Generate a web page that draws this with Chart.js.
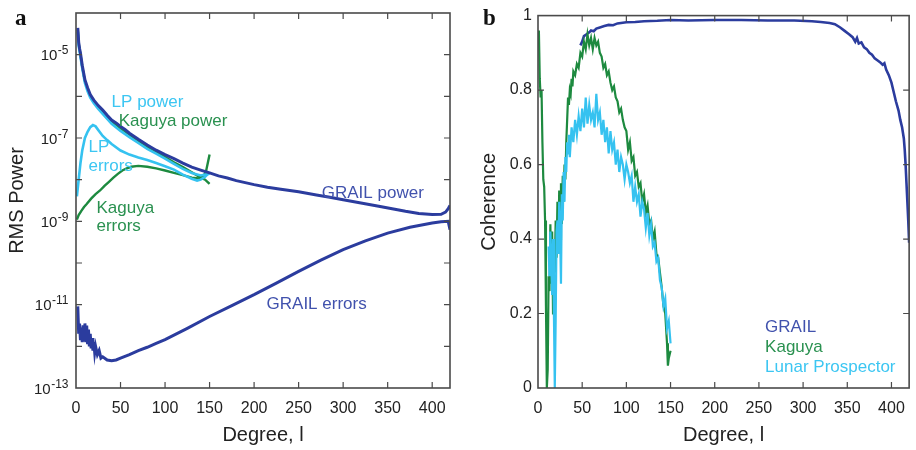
<!DOCTYPE html>
<html lang="en">
<head>
<meta charset="UTF-8" />
<title>GRAIL power spectra and coherence</title>
<script src="https://cdn.jsdelivr.net/npm/chart.js"></script>
<style>
  html, body { margin: 0; padding: 0; background: #fff; }
  #wrap { position: relative; width: 916px; height: 450px; }
  canvas { position: absolute; top: 0; }
  #powerChart { left: 0; }
  #cohChart { left: 458px; }
</style>
</head>
<body>
<div id="wrap">
  <canvas id="powerChart" width="458" height="450"></canvas>
  <canvas id="cohChart" width="458" height="450"></canvas>
</div>
<script>
// ---- panel a: RMS power ----
const grailPowerDeg = [2, 3, 4, 5, 7, 10, 13, 16, 20, 25, 30, 35, 40, 45, 50, 55, 60, 70, 80, 90, 100, 110, 120, 130, 140, 150, 160, 170, 180, 190, 200, 215, 230, 250, 270, 285, 300, 320, 340, 355, 370, 385, 400, 410, 415, 418, 420];
const grailPower = [4.4e-5, 2.0e-5, 1.4e-5, 1.1e-5, 5.6e-6, 2.5e-6, 1.6e-6, 1.1e-6, 8.1e-7, 6.0e-7, 4.7e-7, 3.5e-7, 2.7e-7, 2.3e-7, 1.9e-7, 1.6e-7, 1.3e-7, 9.3e-8, 6.8e-8, 5.1e-8, 4.0e-8, 3.2e-8, 2.5e-8, 2.0e-8, 1.7e-8, 1.45e-8, 1.23e-8, 1.1e-8, 9.5e-9, 8.5e-9, 7.6e-9, 6.6e-9, 5.9e-9, 5.1e-9, 4.3e-9, 3.8e-9, 3.3e-9, 2.75e-9, 2.3e-9, 2.0e-9, 1.74e-9, 1.55e-9, 1.45e-9, 1.48e-9, 1.66e-9, 2.0e-9, 2.4e-9];

const grailErrDeg = [2, 3, 4, 5, 6, 7, 8, 9, 10, 11, 12, 13, 14, 15, 16, 17, 18, 19, 20, 21, 22, 24, 26, 28, 30, 35, 40, 45, 50, 60, 70, 80, 90, 100, 125, 150, 175, 200, 225, 250, 275, 300, 325, 350, 375, 400, 410, 418, 420];
const grailErr = [9.1e-12, 2.0e-12, 3.5e-12, 1.4e-12, 2.8e-12, 1.26e-12, 3.2e-12, 1.41e-12, 3.55e-12, 1.26e-12, 3.16e-12, 1.12e-12, 2.51e-12, 1.0e-12, 2.0e-12, 8.9e-13, 1.58e-12, 7.9e-13, 1.26e-12, 7.1e-13, 1.0e-12, 6.3e-13, 7.9e-13, 5.2e-13, 5.6e-13, 4.7e-13, 4.5e-13, 4.7e-13, 5.2e-13, 6.3e-13, 7.9e-13, 9.5e-13, 1.17e-12, 1.45e-12, 2.7e-12, 5.2e-12, 9.5e-12, 1.74e-11, 3.3e-11, 6.3e-11, 1.17e-10, 2.1e-10, 3.4e-10, 5.2e-10, 7.2e-10, 9.1e-10, 9.8e-10, 1.0e-9, 6.3e-10];

const lpPowerDeg = [2, 3, 5, 7, 10, 13, 16, 20, 25, 30, 40, 50, 60, 70, 80, 90, 100, 110, 120, 130, 140, 150];
const lpPower = [3.5e-5, 1.66e-5, 8.9e-6, 4.7e-6, 2.1e-6, 1.32e-6, 9.3e-7, 6.8e-7, 5.0e-7, 3.8e-7, 2.2e-7, 1.48e-7, 1.05e-7, 7.6e-8, 5.5e-8, 4.2e-8, 3.2e-8, 2.4e-8, 1.82e-8, 1.45e-8, 1.26e-8, 1.38e-8];

const lpErrDeg = [1, 3, 5, 7, 10, 13, 16, 19, 22, 26, 30, 35, 40, 50, 60, 70, 80, 90, 100, 110, 120, 130, 136, 140, 145, 150];
const lpErr = [4.0e-9, 1.0e-8, 2.5e-8, 5.0e-8, 1.0e-7, 1.41e-7, 1.82e-7, 2.04e-7, 1.9e-7, 1.45e-7, 1.12e-7, 8.9e-8, 7.2e-8, 5.0e-8, 4.0e-8, 3.4e-8, 2.95e-8, 2.5e-8, 2.1e-8, 1.74e-8, 1.32e-8, 1.05e-8, 9.5e-9, 1.0e-8, 1.17e-8, 1.5e-8];

const kagPowerDeg = [2, 3, 5, 7, 10, 13, 16, 20, 25, 30, 40, 50, 60, 70, 80, 90, 100, 110, 120, 130, 140, 145, 150];
const kagPower = [4.0e-5, 1.86e-5, 1.0e-5, 5.2e-6, 2.3e-6, 1.48e-6, 1.05e-6, 7.6e-7, 5.6e-7, 4.3e-7, 2.5e-7, 1.7e-7, 1.2e-7, 8.5e-8, 6.2e-8, 4.6e-8, 3.5e-8, 2.6e-8, 2.0e-8, 1.5e-8, 1.12e-8, 1.0e-8, 7.9e-9];

const kagErrDeg = [1, 3, 6, 9, 12, 17, 22, 27, 32, 37, 42, 47, 52, 57, 62, 70, 80, 90, 100, 110, 120, 130, 138, 143, 146, 148, 150];
const kagErr = [1.1e-9, 1.41e-9, 1.78e-9, 2.2e-9, 2.6e-9, 3.5e-9, 4.5e-9, 5.5e-9, 7.1e-9, 8.9e-9, 1.12e-8, 1.38e-8, 1.66e-8, 1.86e-8, 2.04e-8, 2.14e-8, 2.04e-8, 1.86e-8, 1.66e-8, 1.45e-8, 1.29e-8, 1.12e-8, 1.07e-8, 1.2e-8, 1.58e-8, 2.5e-8, 4.0e-8];

// ---- panel b: coherence ----
const grailCohDeg = [48, 50, 52, 55, 58, 60, 63, 66, 70, 75, 80, 85, 90, 100, 110, 120, 135, 150, 170, 200, 230, 260, 290, 310, 320, 330, 336, 342, 347, 352, 356, 359, 361, 363, 366, 369, 372, 375, 378, 381, 384, 387, 390, 392, 394, 397, 400, 403, 405, 408, 410, 412, 414, 415, 416, 417, 418, 419, 420];
const grailCoh = [0.92, 0.93, 0.945, 0.95, 0.955, 0.96, 0.958, 0.965, 0.968, 0.972, 0.975, 0.974, 0.979, 0.982, 0.983, 0.985, 0.986, 0.988, 0.987, 0.988, 0.988, 0.987, 0.987, 0.985, 0.983, 0.98, 0.977, 0.968, 0.959, 0.95, 0.942, 0.93, 0.94, 0.925, 0.928, 0.915, 0.91, 0.9, 0.895, 0.885, 0.88, 0.875, 0.868, 0.872, 0.855, 0.84, 0.82, 0.79, 0.77, 0.745, 0.72, 0.7, 0.67, 0.64, 0.6, 0.55, 0.5, 0.45, 0.39];

const kagCohDeg = [1, 2, 3, 4, 5, 6, 7, 8, 9, 10, 11, 12, 13, 14, 15, 16, 17, 18, 19, 20, 21, 22, 23, 24, 25, 26, 27, 28, 29, 30, 31, 32, 33, 34, 35, 36, 37, 38, 39, 40, 42, 44, 46, 48, 50, 52, 54, 56, 58, 60, 62, 64, 66, 68, 70, 72, 74, 76, 78, 80, 82, 84, 86, 88, 90, 92, 94, 96, 98, 100, 102, 104, 106, 108, 110, 112, 114, 116, 118, 120, 122, 124, 126, 128, 130, 132, 134, 136, 138, 140, 142, 144, 146, 147, 148, 150];
const kagCoh = [0.96, 0.83, 0.78, 0.8, 0.66, 0.56, 0.54, 0.45, 0.22, 0.0, 0.05, 0.3, 0.26, 0.44, 0.28, 0.42, 0.2, 0.38, 0.31, 0.45, 0.35, 0.5, 0.38, 0.53, 0.4, 0.55, 0.44, 0.57, 0.5, 0.6, 0.56, 0.66, 0.72, 0.78, 0.76, 0.8, 0.79, 0.83, 0.81, 0.85, 0.84, 0.87, 0.86, 0.9, 0.89, 0.93, 0.91, 0.95, 0.92, 0.94, 0.91, 0.94, 0.92, 0.93, 0.9, 0.89, 0.86, 0.87, 0.84, 0.85, 0.82, 0.8, 0.81, 0.78, 0.77, 0.74, 0.75, 0.72, 0.7, 0.69, 0.64, 0.66, 0.61, 0.62, 0.57, 0.58, 0.54, 0.55, 0.5, 0.52, 0.47, 0.49, 0.44, 0.45, 0.4, 0.42, 0.36, 0.35, 0.31, 0.27, 0.22, 0.2, 0.12, 0.06, 0.08, 0.1];

const lpCohDeg = [12, 13, 14, 15, 16, 17, 18, 19, 20, 21, 22, 23, 24, 25, 26, 27, 28, 29, 30, 31, 32, 33, 34, 35, 36, 38, 40, 42, 44, 46, 48, 50, 52, 54, 56, 58, 60, 62, 64, 66, 68, 70, 72, 74, 76, 78, 80, 82, 84, 86, 88, 90, 92, 94, 96, 98, 100, 102, 104, 106, 108, 110, 112, 114, 116, 118, 120, 122, 124, 126, 128, 130, 132, 134, 136, 138, 140, 142, 144, 146, 148, 150];
const lpCoh = [0.38, 0.3, 0.42, 0.34, 0.25, 0.4, 0.2, 0.0, 0.18, 0.42, 0.45, 0.36, 0.5, 0.42, 0.28, 0.52, 0.45, 0.58, 0.5, 0.62, 0.58, 0.66, 0.63, 0.68, 0.62, 0.7, 0.66, 0.72, 0.68, 0.73, 0.69, 0.75, 0.7, 0.78, 0.71, 0.76, 0.72, 0.74, 0.7, 0.79, 0.72, 0.74, 0.68, 0.72, 0.66, 0.7, 0.63, 0.69, 0.64, 0.66, 0.6, 0.64, 0.58, 0.62, 0.6, 0.56, 0.6, 0.58, 0.55, 0.57, 0.5, 0.54, 0.5, 0.52, 0.46, 0.5, 0.48, 0.43, 0.47, 0.41, 0.44, 0.38, 0.39, 0.34, 0.35, 0.29, 0.27, 0.22, 0.24, 0.16, 0.18, 0.12];

const degreeTicks = [0, 50, 100, 150, 200, 250, 300, 350, 400];
const powerDecades = [1e-13, 1e-12, 1e-11, 1e-10, 1e-9, 1e-8, 1e-7, 1e-6, 1e-5, 1e-4];
const cohTicks = [0, 0.2, 0.4, 0.6, 0.8, 1];

const GRAIL_BLUE = '#2b3c9e';
const KAGUYA_GREEN = '#1d8a3f';
const LP_CYAN = '#35c2f0';
const GRAIL_TEXT = '#4152ad';
const KAGUYA_TEXT = '#2a9150';
const LP_TEXT = '#3cc6f2';

// text labels, placed in data coordinates (degree, value)
const powerNotes = [
    { text: 'LP power', x: 40, y: 5.5e-7, color: LP_TEXT },
    { text: 'Kaguya power', x: 48, y: 1.95e-7, color: KAGUYA_TEXT },
    { text: 'LP', x: 14, y: 4.7e-8, color: LP_TEXT },
    { text: 'errors', x: 14, y: 1.62e-8, color: LP_TEXT },
    { text: 'Kaguya', x: 23, y: 1.58e-9, color: KAGUYA_TEXT },
    { text: 'errors', x: 23, y: 5.8e-10, color: KAGUYA_TEXT },
    { text: 'GRAIL power', x: 276, y: 3.6e-9, color: GRAIL_TEXT },
    { text: 'GRAIL errors', x: 214, y: 7.9e-12, color: GRAIL_TEXT }
];
const cohNotes = [
    { text: 'GRAIL', x: 257, y: 0.15, color: GRAIL_TEXT },
    { text: 'Kaguya', x: 257, y: 0.097, color: KAGUYA_TEXT },
    { text: 'Lunar Prospector', x: 257, y: 0.043, color: LP_TEXT }
];

const SANS = '"Liberation Sans", Arial, Helvetica, sans-serif';
Chart.defaults.font.family = SANS;
Chart.defaults.color = '#222';

function pts(degs, vals) {
    return degs.map((d, i) => ({ x: d, y: vals[i] }));
}

// box frame, inward ticks on all four sides, text labels, panel letter
const framePlugin = {
    id: 'frame',
    afterDatasetsDraw(chart, args, opts) {
        const { ctx, chartArea: a, scales } = chart;
        const xs = scales.x, ys = scales.y;
        ctx.save();
        ctx.strokeStyle = '#4a4a4a';
        ctx.lineWidth = 1.2;
        ctx.beginPath();
        xs.ticks.forEach(t => {
            const px = xs.getPixelForValue(t.value);
            if (px <= a.left + 1 || px >= a.right - 1) return;
            ctx.moveTo(px, a.bottom); ctx.lineTo(px, a.bottom - 6);
            ctx.moveTo(px, a.top); ctx.lineTo(px, a.top + 6);
        });
        ys.ticks.forEach(t => {
            const py = ys.getPixelForValue(t.value);
            if (py <= a.top + 1 || py >= a.bottom - 1) return;
            ctx.moveTo(a.left, py); ctx.lineTo(a.left + 6, py);
            ctx.moveTo(a.right, py); ctx.lineTo(a.right - 6, py);
        });
        ctx.stroke();
        ctx.lineWidth = 1.6;
        ctx.strokeRect(a.left, a.top, a.right - a.left, a.bottom - a.top);

        // 10^n labels for the log axis
        if (opts.powerLabels) {
            ys.ticks.forEach(t => {
                const e = Math.round(Math.log10(t.value));
                if (e % 2 === 0) return;
                const py = ys.getPixelForValue(t.value);
                ctx.fillStyle = '#222';
                ctx.textAlign = 'left';
                ctx.textBaseline = 'alphabetic';
                ctx.font = '12px ' + SANS;
                const sup = String(e);
                const supW = ctx.measureText(sup).width;
                ctx.font = '15px ' + SANS;
                const baseW = ctx.measureText('10').width;
                const x0 = a.left - 8 - supW - baseW;
                ctx.fillText('10', x0, py + 5.5);
                ctx.font = '12px ' + SANS;
                ctx.fillText(sup, x0 + baseW + 0.5, py - 0.5);
            });
        }

        ctx.textAlign = 'left';
        ctx.textBaseline = 'alphabetic';
        ctx.font = '17px ' + SANS;
        (opts.notes || []).forEach(n => {
            ctx.fillStyle = n.color;
            ctx.fillText(n.text, xs.getPixelForValue(n.x), ys.getPixelForValue(n.y));
        });

        ctx.fillStyle = '#111';
        ctx.font = 'bold 23px "Liberation Serif", "Times New Roman", serif';
        ctx.fillText(opts.letter, opts.letterX, 25);
        ctx.restore();
    }
};

function lineSet(label, data, color, width) {
    return {
        label: label,
        data: data,
        borderColor: color,
        backgroundColor: color,
        borderWidth: width,
        pointRadius: 0,
        tension: 0,
        fill: false
    };
}

const degreeAxis = {
    type: 'linear',
    min: 0,
    max: 420,
    afterBuildTicks: s => { s.ticks = degreeTicks.map(v => ({ value: v })); },
    afterFit: s => { s.height = 62; },
    grid: { display: false, drawTicks: false },
    border: { display: false },
    ticks: { font: { size: 16 }, color: '#222', padding: 11, maxRotation: 0 },
    title: { display: true, text: 'Degree, l', font: { size: 20 }, color: '#222', padding: { top: 0, bottom: 3 } }
};

new Chart(document.getElementById('powerChart'), {
    type: 'line',
    data: {
        datasets: [
            lineSet('GRAIL power', pts(grailPowerDeg, grailPower), GRAIL_BLUE, 3),
            lineSet('GRAIL errors', pts(grailErrDeg, grailErr), GRAIL_BLUE, 3),
            lineSet('LP power', pts(lpPowerDeg, lpPower), LP_CYAN, 2.6),
            lineSet('LP errors', pts(lpErrDeg, lpErr), LP_CYAN, 2.6),
            lineSet('Kaguya power', pts(kagPowerDeg, kagPower), KAGUYA_GREEN, 2.4),
            lineSet('Kaguya errors', pts(kagErrDeg, kagErr), KAGUYA_GREEN, 2.4)
        ]
    },
    options: {
        responsive: false,
        animation: false,
        devicePixelRatio: 1,
        layout: { padding: { top: 13, right: 8, bottom: 0, left: 0 } },
        plugins: {
            legend: { display: false },
            tooltip: { enabled: false },
            frame: { notes: powerNotes, powerLabels: true, letter: 'a', letterX: 15 }
        },
        scales: {
            x: degreeAxis,
            y: {
                type: 'logarithmic',
                min: 1e-13,
                max: 1e-4,
                afterBuildTicks: s => { s.ticks = powerDecades.map(v => ({ value: v })); },
                afterFit: s => { s.width = 76; },
                grid: { display: false, drawTicks: false },
                border: { display: false },
                ticks: { display: false },
                title: { display: true, text: 'RMS Power', font: { size: 20 }, color: '#222', padding: { top: 5 } }
            }
        }
    },
    plugins: [framePlugin]
});

new Chart(document.getElementById('cohChart'), {
    type: 'line',
    data: {
        datasets: [
            lineSet('Lunar Prospector', pts(lpCohDeg, lpCoh), LP_CYAN, 2.2),
            lineSet('Kaguya', pts(kagCohDeg, kagCoh), KAGUYA_GREEN, 2.2),
            lineSet('GRAIL', pts(grailCohDeg, grailCoh), GRAIL_BLUE, 2.6)
        ]
    },
    options: {
        responsive: false,
        animation: false,
        devicePixelRatio: 1,
        layout: { padding: { top: 13, right: 4, bottom: 0, left: 0 } },
        plugins: {
            legend: { display: false },
            tooltip: { enabled: false },
            frame: { notes: cohNotes, powerLabels: false, letter: 'b', letterX: 25 }
        },
        scales: {
            x: degreeAxis,
            y: {
                type: 'linear',
                min: 0,
                max: 1,
                afterBuildTicks: s => { s.ticks = cohTicks.map(v => ({ value: v })); },
                afterFit: s => { s.width = 80; },
                grid: { display: false, drawTicks: false },
                border: { display: false },
                ticks: {
                    font: { size: 16 },
                    color: '#222',
                    padding: 6,
                    callback: v => (v === 0 || v === 1) ? String(v) : v.toFixed(1)
                },
                title: { display: true, text: 'Coherence', font: { size: 20 }, color: '#222', padding: { top: 19 } }
            }
        }
    },
    plugins: [framePlugin]
});
</script>
</body>
</html>
